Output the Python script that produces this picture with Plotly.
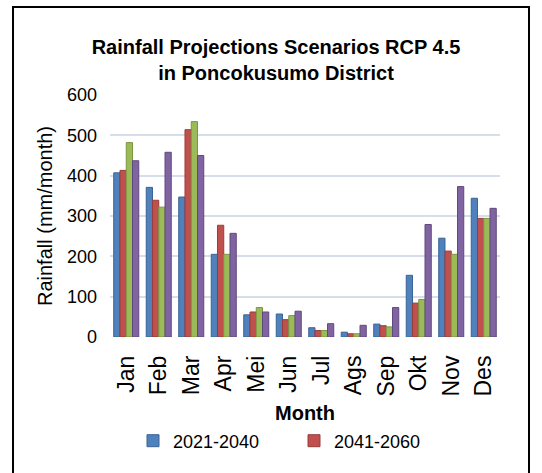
import plotly.graph_objects as go

months = ["Jan", "Feb", "Mar", "Apr", "Mei", "Jun", "Jul", "Ags", "Sep", "Okt", "Nov", "Des"]
s2021_2040 = [407, 371, 347, 205, 55, 57, 23, 12, 32, 153, 245, 344]
s2041_2060 = [413, 339, 514, 277, 62, 43, 16, 8, 28, 84, 213, 294]
s2061_2080 = [482, 322, 534, 205, 73, 53, 16, 8, 25, 93, 205, 294]
s2081_2100 = [437, 458, 450, 257, 62, 64, 33, 29, 73, 279, 373, 319]

series_names = ["2021-2040", "2041-2060", "2061-2080", "2081-2100"]
series_values = [s2021_2040, s2041_2060, s2061_2080, s2081_2100]
colors = ["#4F81BD", "#C0504D", "#9BBB59", "#8064A2"]
edge_colors = ["#3A6494", "#9A3C3A", "#7A9640", "#5F4A7C"]
show_in_legend = [True, True, False, False]
legend_ids = ["legend", "legend2", "legend", "legend"]

FONT = "Liberation Sans, Arial, sans-serif"

fig = go.Figure()
for name, vals, c, ec, sl, lg in zip(series_names, series_values, colors, edge_colors, show_in_legend, legend_ids):
    fig.add_trace(go.Bar(
        x=months, y=vals, name=name,
        marker=dict(color=c, line=dict(color=ec, width=1)),
        showlegend=sl, legend=lg,
    ))

def px_x(p):
    return (p - 110) / 390

def px_y(p):
    return (337 - p) / 242

legend_common = dict(
    orientation="h", yanchor="middle", xanchor="left",
    font=dict(size=18, family=FONT), itemwidth=30,
    bgcolor="rgba(0,0,0,0)",
)

fig.update_layout(
    width=542, height=473,
    margin=dict(l=110, r=42, t=95, b=136),
    paper_bgcolor="white", plot_bgcolor="white",
    barmode="group", bargap=0.23, bargroupgap=0,
    font=dict(family=FONT, color="black"),
    title=dict(
        text="<b>Rainfall Projections Scenarios RCP 4.5<br>in Poncokusumo District</b>",
        font=dict(size=20, family=FONT, color="black"),
        x=276 / 542, xanchor="center",
        y=1 - 54 / 473, yanchor="middle",
        xref="container", yref="container",
    ),
    xaxis=dict(
        tickangle=-90,
        tickfont=dict(size=23, family=FONT),
        showgrid=False, zeroline=False,
        showline=False, ticks="",
        ticklabelstandoff=13,
        title=dict(text="<b>Month</b>", font=dict(size=20, family=FONT), standoff=10),
    ),
    yaxis=dict(
        range=[0, 600], dtick=100,
        tickfont=dict(size=18, family=FONT),
        showgrid=True, gridcolor="#D6DDEB", gridwidth=2,
        zeroline=False, showline=False, ticks="",
        ticklabelstandoff=12,
        title=dict(text="Rainfall (mm/month)", font=dict(size=20, family=FONT), standoff=8),
    ),
    legend=dict(legend_common, x=px_x(175 - 40 - 2), y=px_y(441)),
    legend2=dict(legend_common, x=px_x(336 - 40 - 2), y=px_y(441)),
    shapes=[dict(
        type="rect", xref="paper", yref="paper",
        x0=px_x(13), x1=px_x(529),
        y0=px_y(490), y1=px_y(7),
        line=dict(color="black", width=2), fillcolor="rgba(0,0,0,0)",
        layer="below",
    )],
)

fig.write_html("out.html")
